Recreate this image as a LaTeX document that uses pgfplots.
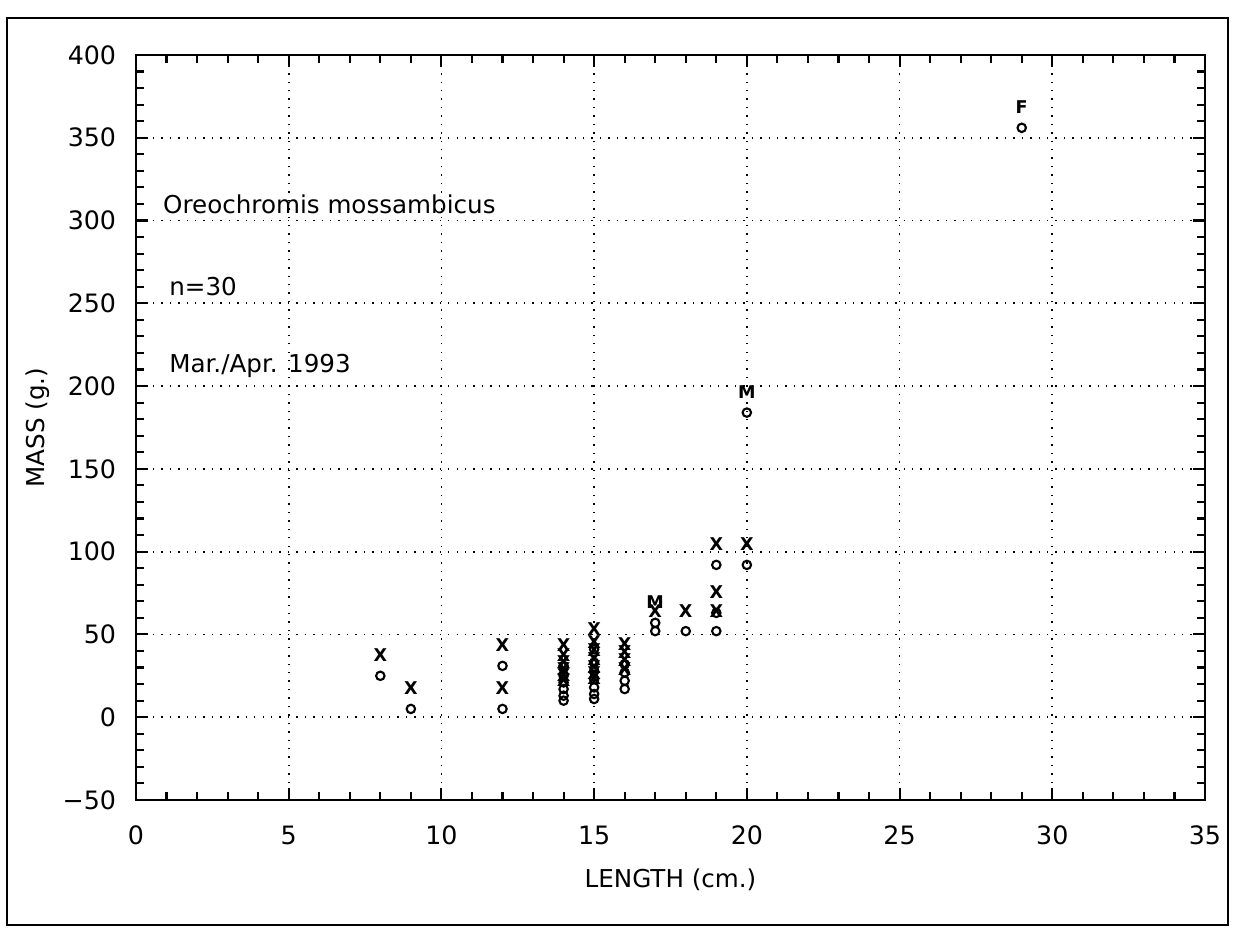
\documentclass[border=0pt]{standalone}
\usepackage{fontspec}
\setmainfont{DejaVu Sans}
\usepackage{pgfplots}
\usepackage{pgfplotstable}
\pgfplotsset{compat=1.18}

% length (cm), mass (g), plotted label
\pgfplotstableread{
len mass lab
8  25  X
9  5   X
12 31  X
12 5   X
14 31  X
14 25  X
14 21  X
14 17  X
14 13  X
14 10  X
15 41  X
15 33  X
15 28  X
15 23  X
15 18  X
15 14  X
15 11  X
16 32  X
16 27  X
16 22  X
16 17  X
17 52  X
17 57  M
18 52  X
19 52  X
19 63  X
19 92  X
20 92  X
20 184 M
29 356 F
}\fishdata

\begin{document}
\fontsize{7}{8.4}\selectfont
\begin{tikzpicture}
\begin{axis}[
  scale only axis,
  width=106.9mm, height=74.5mm,
  xmin=0, xmax=35, ymin=-50, ymax=400,
  xtick={0,5,...,35}, ytick={-50,0,...,400},
  yticklabels={−50,0,50,100,150,200,250,300,350,400},
  minor x tick num=4, minor y tick num=4,
  tick align=inside, tick pos=both,
  major tick length=1.2mm, minor tick length=0.8mm,
  axis line style={line width=0.8pt},
  every tick/.style={line width=0.6pt, black},
  grid=major,
  major grid style={dotted, line width=0.5pt, black},
  /pgf/number format/assume math mode=true,
  ticklabel style={font=\fontsize{7.2}{8.4}\selectfont},
  yticklabel style={xshift=-1.1mm},
  xticklabel style={yshift=-1.7mm},
  xlabel={LENGTH (cm.)},
  ylabel={MASS (g.)},
  every axis x label/.style={at={(axis description cs:0.5,-0.107)}, anchor=center},
  every axis y label/.style={at={(axis description cs:-0.0917,0.5)}, anchor=center, rotate=90},
  clip=false,
]
\addplot[only marks, mark=o, mark size=1.2pt, line width=0.6pt, black,
  point meta=explicit symbolic,
  nodes near coords,
  every node near coord/.style={font=\fontsize{5}{5}\bfseries\selectfont, inner sep=0pt, anchor=south, yshift=1.3mm}]
  table[x=len, y=mass, meta=lab] {\fishdata};

\node[anchor=west] at (axis cs:0.6,310) {Oreochromis mossambicus};
\node[anchor=west] at (axis cs:0.8,260) {n=30};
\node[anchor=west] at (axis cs:0.8,212) {Mar./Apr. 1993};

\path (rel axis cs:-0.1272,-0.1718) rectangle (rel axis cs:1.0365,1.0738);
\draw[line width=0.8pt] (rel axis cs:-0.1207,-0.1678) rectangle (rel axis cs:1.0215,1.0497);
\end{axis}
\end{tikzpicture}
\end{document}
